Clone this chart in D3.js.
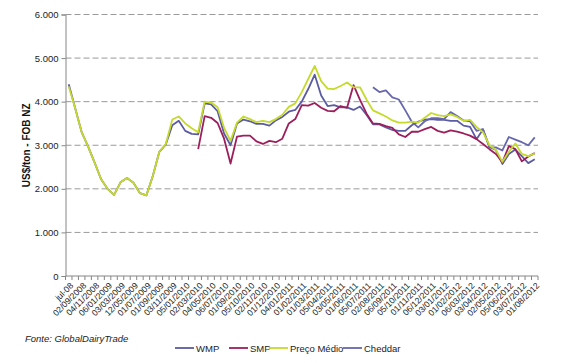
<!DOCTYPE html>
<html>
<head>
<meta charset="utf-8">
<script src="https://cdn.jsdelivr.net/npm/d3@7"></script>
<style>
  body { margin: 0; background: #fff; }
  svg { font-family: "Liberation Sans", Arial, sans-serif; }
</style>
</head>
<body>
<div id="grafica"></div>
<script>
// labels shown on the category axis (every other auction)
const tickLabels = ["jul-08","02/09/2008","04/11/2008","06/01/2009","03/03/2009","12/05/2009",
  "01/07/2009","01/09/2009","03/11/2009","05/01/2010","02/03/2010","04/05/2010","06/07/2010",
  "01/09/2010","05/10/2010","02/11/2010","01/12/2010","04/01/2011","01/02/2011","01/03/2011",
  "05/04/2011","03/05/2011","01/06/2011","05/07/2011","02/08/2011","06/09/2011","05/10/2011",
  "01/11/2011","06/12/2011","03/01/2012","01/02/2012","06/03/2012","03/04/2012","02/05/2012",
  "05/06/2012","03/07/2012","01/08/2012"];

const yTicks = [0, 1000, 2000, 3000, 4000, 5000, 6000];

// US$/ton FOB NZ, one value per auction
const wmp = [4400,3850,3300,2970,2600,2220,2000,1860,2150,2250,2140,1900,1850,2300,2850,3020,
  3460,3560,3330,3260,3250,3960,3940,3780,3270,3000,3500,3590,3550,3490,3490,3450,3570,3650,
  3770,3810,4000,4290,4620,4140,3900,3920,3870,3870,3810,3890,3700,3480,3480,3410,3350,3330,
  3330,3460,3540,3590,3600,3580,3580,3560,3560,3450,3420,3140,3360,2960,2890,2570,2800,2900,
  2750,2590,2680];

const smp = [null,null,null,null,null,null,null,null,null,null,null,null,null,null,null,null,
  null,null,null,null,2910,3670,3630,3510,3150,2580,3200,3220,3220,3090,3030,3100,3070,3150,
  3500,3600,3920,3910,3970,3860,3790,3780,3900,3860,4380,4040,3730,3500,3490,3440,3400,3250,
  3190,3310,3310,3370,3420,3330,3290,3340,3310,3270,3220,3140,3030,2910,2800,2610,2980,2910,
  2630,2740,2820];

const precoMedio = [4350,3850,3300,2970,2600,2220,2000,1860,2150,2250,2140,1900,1850,2300,2850,
  3030,3590,3660,3500,3390,3300,4000,3980,3870,3400,3100,3520,3660,3600,3530,3560,3530,3600,
  3700,3880,3960,4220,4520,4820,4470,4300,4290,4360,4440,4330,4330,4050,3800,3730,3660,3570,
  3520,3520,3540,3520,3630,3740,3690,3670,3710,3650,3560,3580,3420,3300,3000,2890,2620,2850,
  3040,2800,2750,2810];

const cheddar = [null,null,null,null,null,null,null,null,null,null,null,null,null,null,null,null,
  null,null,null,null,null,null,null,null,null,null,null,null,null,null,null,null,null,null,
  null,null,null,null,null,null,null,null,null,null,null,null,null,4330,4220,4260,4100,4050,
  3800,3540,3410,3550,3620,3620,3600,3760,3670,3570,3550,3330,3370,2950,2950,2880,3190,3130,
  3070,3000,3180];

const seriesNames = ["WMP", "SMP", "Preço Médio", "Cheddar"];
const seriesColors = ["#5c5ca3", "#9c1f5c", "#c5da2c", "#6767ad"];
const seriesData = [wmp, smp, precoMedio, cheddar];
// drawing order: yellow above the WMP line, as in the original
const drawOrder = [0, 1, 3, 2];

const W = 570, H = 363;
const m = { top: 14.5, left: 65.5, right: 32, bottom: 87 };
const w = W - m.left - m.right, h = H - m.top - m.bottom;

const svg = d3.select("#grafica").append("svg").attr("width", W).attr("height", H);
const g = svg.append("g").attr("transform", "translate(" + m.left + "," + m.top + ")");

const x = d3.scaleBand().domain(d3.range(wmp.length)).range([0, w]).paddingInner(0).paddingOuter(0);
const y = d3.scaleLinear().domain([0, 6000]).range([h, 0]);
const cx = i => x(i) + x.bandwidth() / 2;

// gridlines
g.selectAll("line.grid").data(yTicks.filter(d => d > 0)).enter().append("line")
  .attr("class", "grid")
  .attr("x1", 0).attr("x2", w)
  .attr("y1", d => y(d)).attr("y2", d => y(d))
  .attr("stroke", "#9a9a9a").attr("stroke-width", 1).attr("stroke-dasharray", "6,3");

// y axis
const yAxis = g.append("g").call(d3.axisLeft(y).tickValues(yTicks).tickSize(4)
  .tickFormat(d => d3.format(",")(d).replace(/,/g, ".")));
yAxis.select(".domain").attr("stroke", "#868686");
yAxis.selectAll(".tick line").attr("stroke", "#868686");
yAxis.selectAll(".tick text").attr("font-size", 9.5).attr("fill", "#222").attr("x", -7);

// x axis: ticks between categories
const xg = g.append("g").attr("transform", "translate(0," + h + ")");
xg.append("line").attr("x1", 0).attr("x2", w).attr("stroke", "#868686");
xg.selectAll("line.tk").data(d3.range(wmp.length + 1)).enter().append("line")
  .attr("class", "tk")
  .attr("x1", i => i * x.bandwidth()).attr("x2", i => i * x.bandwidth())
  .attr("y1", 0).attr("y2", 4).attr("stroke", "#868686");
xg.selectAll("text").data(tickLabels).enter().append("text")
  .attr("transform", (d, k) => "translate(" + (cx(k * 2) + 3) + ",8) rotate(-45)")
  .attr("text-anchor", "end").attr("dy", "0.35em")
  .attr("font-size", 8.6).attr("fill", "#222")
  .text(d => d);

// lines
const line = d3.line().defined(d => d != null).x((d, i) => cx(i)).y(d => y(d));
drawOrder.forEach(k => {
  g.append("path").datum(seriesData[k])
    .attr("fill", "none").attr("stroke", seriesColors[k]).attr("stroke-width", 1.8)
    .attr("stroke-linejoin", "round")
    .attr("d", line);
});

// y title
svg.append("text")
  .attr("transform", "translate(30," + (m.top + h / 2) + ") rotate(-90)")
  .attr("text-anchor", "middle").attr("font-size", 10).attr("font-weight", "bold").attr("fill", "#111")
  .text("US$/ton - FOB NZ");

// source
svg.append("text").attr("x", 25).attr("y", 342)
  .attr("font-size", 9.5).attr("font-style", "italic").attr("fill", "#222")
  .text("Fonte: GlobalDairyTrade");

// legend
const legendX = [175, 229, 269, 343];
const lg = svg.append("g");
seriesNames.forEach((name, k) => {
  lg.append("line").attr("x1", legendX[k]).attr("x2", legendX[k] + 19)
    .attr("y1", 348).attr("y2", 348)
    .attr("stroke", seriesColors[k]).attr("stroke-width", 1.8);
  lg.append("text").attr("x", legendX[k] + 21).attr("y", 351.5)
    .attr("font-size", 9.5).attr("fill", "#222").text(name);
});
</script>
</body>
</html>
